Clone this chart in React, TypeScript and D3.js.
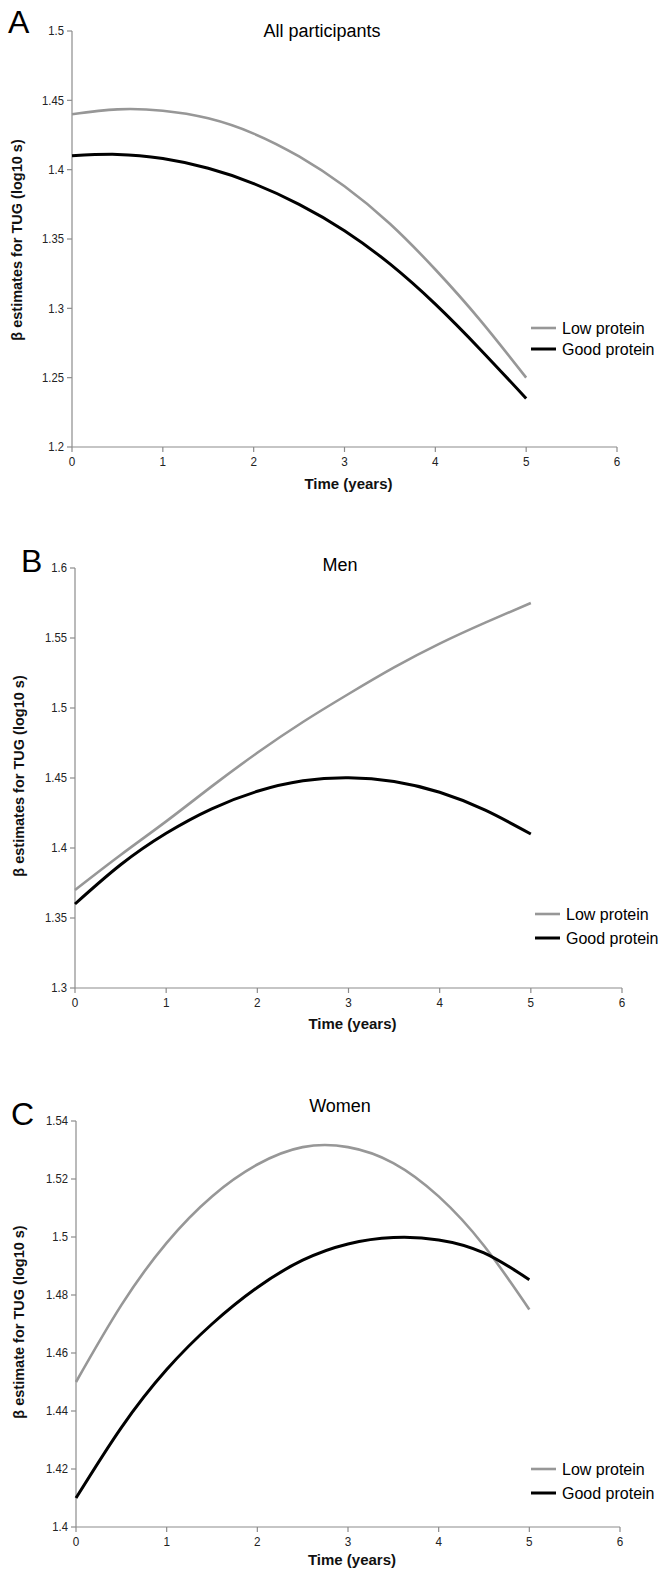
import React from "react";
import * as d3 from "d3";

const timePoints = [0, 0.5, 1, 1.5, 2, 2.5, 3, 3.5, 4, 4.5, 5];
const xTicks = [0, 1, 2, 3, 4, 5, 6];
const seriesNames = ["Low protein", "Good protein"];

const allLow = [1.44, 1.4435, 1.4425, 1.437, 1.426, 1.4095, 1.388, 1.361, 1.328, 1.291, 1.25];
const allGood = [1.41, 1.411, 1.408, 1.401, 1.39, 1.375, 1.356, 1.332, 1.303, 1.27, 1.235];
const allTicks = [1.2, 1.25, 1.3, 1.35, 1.4, 1.45, 1.5];

const menLow = [1.37, 1.395, 1.419, 1.444, 1.468, 1.49, 1.51, 1.529, 1.546, 1.561, 1.575];
const menGood = [1.36, 1.388, 1.4105, 1.428, 1.4405, 1.448, 1.4502, 1.4475, 1.4398, 1.427, 1.41];
const menTicks = [1.3, 1.35, 1.4, 1.45, 1.5, 1.55, 1.6];

const womenLow = [1.45, 1.4765, 1.498, 1.514, 1.525, 1.531, 1.531, 1.5255, 1.514, 1.497, 1.475];
const womenGood = [1.41, 1.4343, 1.4543, 1.47, 1.4826, 1.492, 1.4976, 1.4998, 1.499, 1.4945, 1.4853];
const womenTicks = [1.4, 1.42, 1.44, 1.46, 1.48, 1.5, 1.52, 1.54];

const FONT = "'Liberation Sans', Arial, sans-serif";

type PanelProps = {
  letter: string;
  title: string;
  yTitle: string;
  low: number[];
  good: number[];
  ticks: number[];
  x0: number;
  x1: number;
  yTop: number;
  yBot: number;
  titleX: number;
  titleY: number;
  letterX: number;
  letterY: number;
  yTitleX: number;
  yTitleY: number;
  xTitleY: number;
  legX: number;
  legY: number;
  legGap: number;
};

function Panel(p: PanelProps) {
  const x = d3.scaleLinear().domain([0, 6]).range([p.x0, p.x1]);
  const y = d3
    .scaleLinear()
    .domain([p.ticks[0], p.ticks[p.ticks.length - 1]])
    .range([p.yBot, p.yTop]);
  const line = d3
    .line<number>()
    .x((_, i) => x(timePoints[i]))
    .y((d) => y(d))
    .curve(d3.curveNatural);
  const fmt = (v: number) => String(+v.toFixed(2));
  const axisColor = "#8c8c8c";
  return (
    <g>
      <text x={p.letterX} y={p.letterY} fontFamily={FONT} fontSize={32} fill="#000">
        {p.letter}
      </text>
      <text x={p.titleX} y={p.titleY} textAnchor="middle" fontFamily={FONT} fontSize={18} fill="#000">
        {p.title}
      </text>
      <line x1={p.x0} x2={p.x0} y1={p.yTop} y2={p.yBot} stroke={axisColor} strokeWidth={1.2} />
      {p.ticks.map((t) => (
        <g key={"y" + t}>
          <line x1={p.x0 - 5} x2={p.x0} y1={y(t)} y2={y(t)} stroke={axisColor} strokeWidth={1.2} />
          <text
            x={p.x0 - 8}
            y={y(t)}
            dy="0.35em"
            textAnchor="end"
            fontFamily={FONT}
            fontSize={12.5}
            fill="#222"
            transform={`translate(${(p.x0 - 8) * 0.1},0) scale(0.9,1)`}
          >
            {fmt(t)}
          </text>
        </g>
      ))}
      <line x1={p.x0} x2={p.x1} y1={p.yBot} y2={p.yBot} stroke={axisColor} strokeWidth={1.2} />
      {xTicks.map((t) => (
        <g key={"x" + t}>
          <line x1={x(t)} x2={x(t)} y1={p.yBot} y2={p.yBot + 5} stroke={axisColor} strokeWidth={1.2} />
          <text
            x={x(t)}
            y={p.yBot + 19}
            textAnchor="middle"
            fontFamily={FONT}
            fontSize={13}
            fill="#222"
            transform={`translate(${x(t) * 0.1},0) scale(0.9,1)`}
          >
            {t}
          </text>
        </g>
      ))}
      <text
        x={(p.x0 + p.x1) / 2 + 4}
        y={p.xTitleY}
        textAnchor="middle"
        fontFamily={FONT}
        fontWeight="bold"
        fontSize={15}
        fill="#111"
      >
        Time (years)
      </text>
      <text
        transform={`translate(${p.yTitleX},${p.yTitleY}) rotate(-90)`}
        textAnchor="middle"
        fontFamily={FONT}
        fontWeight="bold"
        fontSize={14.5}
        fill="#111"
      >
        {p.yTitle}
      </text>
      <path d={line(p.low) || ""} fill="none" stroke="#979797" strokeWidth={2.6} />
      <path d={line(p.good) || ""} fill="none" stroke="#000" strokeWidth={3} />
      {seriesNames.map((n, i) => (
        <g key={n}>
          <line
            x1={p.legX}
            x2={p.legX + 25}
            y1={p.legY + i * p.legGap}
            y2={p.legY + i * p.legGap}
            stroke={i === 0 ? "#979797" : "#000"}
            strokeWidth={i === 0 ? 2.6 : 3}
          />
          <text
            x={p.legX + 31}
            y={p.legY + i * p.legGap}
            dy="0.35em"
            fontFamily={FONT}
            fontSize={16}
            fill="#000"
          >
            {n}
          </text>
        </g>
      ))}
    </g>
  );
}

export default function App() {
  return (
    <svg
      width={671}
      height={1570}
      style={{ position: "absolute", left: 0, top: 0, background: "#fff" }}
    >
      <rect width={671} height={1570} fill="#fff" />
      <Panel
        letter="A"
        title="All participants"
        yTitle="β estimates for TUG (log10 s)"
        low={allLow}
        good={allGood}
        ticks={allTicks}
        x0={72}
        x1={617}
        yTop={31}
        yBot={447}
        titleX={322}
        titleY={37}
        letterX={8}
        letterY={33}
        yTitleX={22}
        yTitleY={240}
        xTitleY={489}
        legX={531}
        legY={328}
        legGap={21}
      />
      <Panel
        letter="B"
        title="Men"
        yTitle="β estimates for TUG (log10 s)"
        low={menLow}
        good={menGood}
        ticks={menTicks}
        x0={75}
        x1={622}
        yTop={568}
        yBot={988}
        titleX={340}
        titleY={571}
        letterX={21}
        letterY={572}
        yTitleX={24}
        yTitleY={776}
        xTitleY={1029}
        legX={535}
        legY={914}
        legGap={24}
      />
      <Panel
        letter="C"
        title="Women"
        yTitle="β estimate for TUG (log10 s)"
        low={womenLow}
        good={womenGood}
        ticks={womenTicks}
        x0={76}
        x1={620}
        yTop={1121}
        yBot={1527}
        titleX={340}
        titleY={1112}
        letterX={11}
        letterY={1125}
        yTitleX={24}
        yTitleY={1322}
        xTitleY={1565}
        legX={531}
        legY={1469}
        legGap={24}
      />
    </svg>
  );
}
